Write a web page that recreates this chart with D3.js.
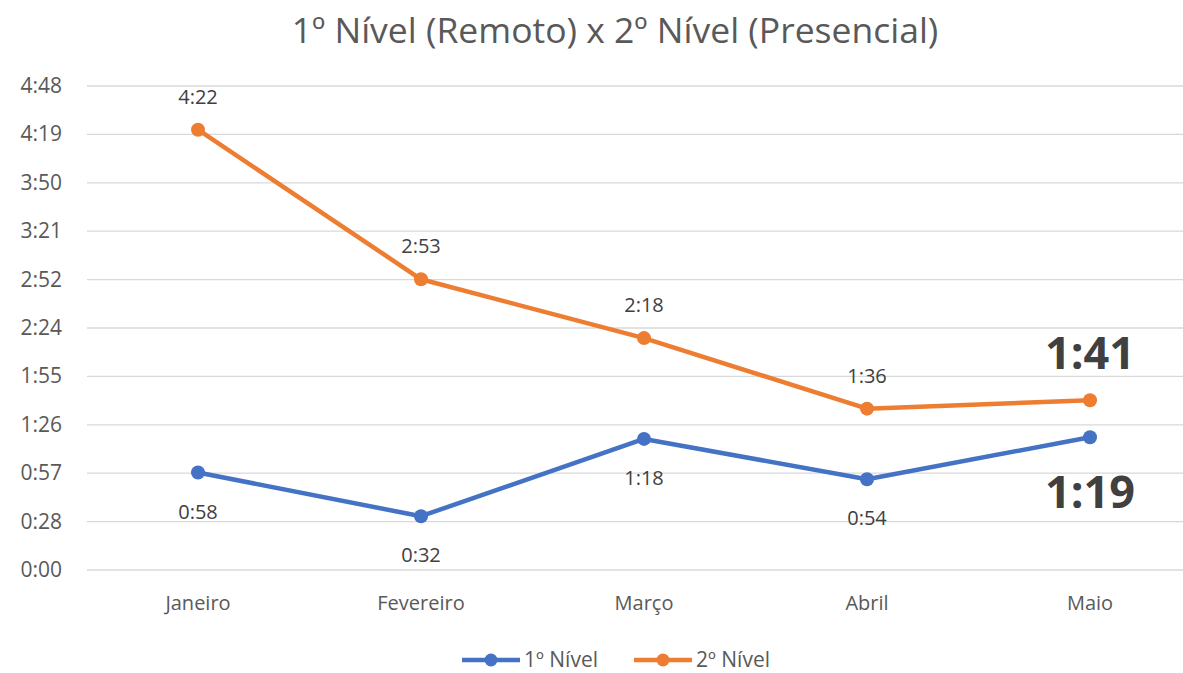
<!DOCTYPE html>
<html>
<head>
<meta charset="utf-8">
<script src="https://cdn.jsdelivr.net/npm/d3@7"></script>
<style>
  body { margin: 0; background: #fff; }
  text { font-family: "Open Sans", "Noto Sans", sans-serif; }
</style>
</head>
<body>
<div id="chart"></div>
<script>
// Data (minutes)
const months = ['Janeiro', 'Fevereiro', 'Março', 'Abril', 'Maio'];
const nivel1 = [58, 32, 78, 54, 79];
const nivel2 = [262, 173, 138, 96, 101];
const yTicks = [0, 28.8, 57.6, 86.4, 115.2, 144, 172.8, 201.6, 230.4, 259.2, 288];

const width = 1183, height = 673;
const fmt = m => {
  const t = Math.floor(m + 1e-6);
  return Math.floor(t / 60) + ':' + String(t % 60).padStart(2, '0');
};

const svg = d3.select('#chart').append('svg')
  .attr('width', width).attr('height', height);

const x = d3.scalePoint().domain(months).range([198, 1090]);
const y = d3.scaleLinear().domain([0, 288]).range([570, 86]);

// Title
svg.append('text')
  .attr('x', 615).attr('y', 43)
  .attr('text-anchor', 'middle')
  .attr('font-size', '35.5px')
  .attr('fill', '#595959')
  .text('1º Nível (Remoto) x 2º Nível (Presencial)');

// Gridlines + y labels
svg.append('g').selectAll('line').data(yTicks).join('line')
  .attr('x1', 87).attr('x2', 1202)
  .attr('y1', d => y(d)).attr('y2', d => y(d))
  .attr('stroke', '#d9d9d9').attr('stroke-width', 1.3);

svg.append('g').selectAll('text').data(yTicks).join('text')
  .attr('x', 62).attr('y', d => y(d) + 7)
  .attr('text-anchor', 'end')
  .attr('font-size', '21px')
  .attr('fill', '#595959')
  .text(fmt);

// x labels
svg.append('g').selectAll('text').data(months).join('text')
  .attr('x', d => x(d)).attr('y', 610)
  .attr('text-anchor', 'middle')
  .attr('font-size', '20px')
  .attr('fill', '#595959')
  .text(d => d);

const series = [
  { name: '1º Nível', values: nivel1, color: '#4472C4', below: true },
  { name: '2º Nível', values: nivel2, color: '#ED7D31', below: false }
];

const line = d3.line().x((d, i) => x(months[i])).y(d => y(d));

series.forEach(s => {
  const g = svg.append('g');
  g.append('path')
    .attr('d', line(s.values))
    .attr('fill', 'none')
    .attr('stroke', s.color)
    .attr('stroke-width', 4.5)
    .attr('stroke-linejoin', 'round');
  g.selectAll('circle').data(s.values).join('circle')
    .attr('cx', (d, i) => x(months[i]))
    .attr('cy', d => y(d))
    .attr('r', 7)
    .attr('fill', s.color);
  // Data labels (last point gets a big bold label)
  const last = s.values.length - 1;
  g.selectAll('text').data(s.values).join('text')
    .attr('x', (d, i) => x(months[i]))
    .attr('y', (d, i) => {
      if (i === last) return s.below ? y(d) + 71 : y(d) - 31;
      return s.below ? y(d) + 46 : y(d) - 26;
    })
    .attr('text-anchor', 'middle')
    .attr('font-size', (d, i) => i === last ? '45px' : '20px')
    .attr('font-weight', (d, i) => i === last ? 'bold' : 'normal')
    .attr('fill', '#404040')
    .text(fmt);
});

// Legend
const legend = svg.append('g');
const legendX = [462, 634];
series.forEach((s, i) => {
  const lx = legendX[i];
  legend.append('line')
    .attr('x1', lx).attr('x2', lx + 58)
    .attr('y1', 660).attr('y2', 660)
    .attr('stroke', s.color).attr('stroke-width', 4.5);
  legend.append('circle')
    .attr('cx', lx + 29).attr('cy', 660).attr('r', 6.5)
    .attr('fill', s.color);
  legend.append('text')
    .attr('x', lx + 62).attr('y', 667)
    .attr('font-size', '21px')
    .attr('fill', '#595959')
    .text(s.name);
});
</script>
</body>
</html>
